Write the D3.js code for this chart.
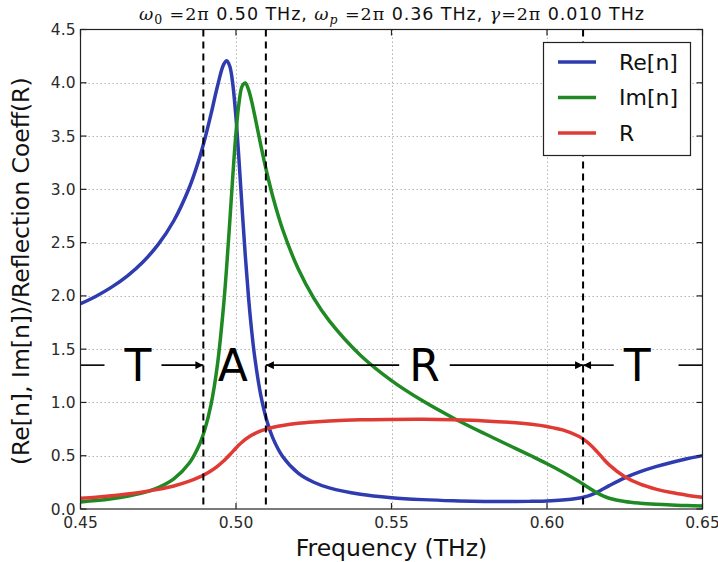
<!DOCTYPE html>
<html>
<head>
<meta charset="utf-8">
<script src="https://cdn.jsdelivr.net/npm/d3@7"></script>
<style>
  body { margin: 0; background: #fff; }
  svg { display: block; }
</style>
</head>
<body>
<div id="chart"></div>
<script>
// values
var freq = [0.45, 0.455, 0.46, 0.465, 0.47, 0.475, 0.48, 0.485, 0.488, 0.49, 0.492, 0.494, 0.496, 0.497,
  0.498, 0.499, 0.5, 0.501, 0.502, 0.503, 0.504, 0.505, 0.506, 0.508, 0.51, 0.512, 0.515, 0.52, 0.525,
  0.53, 0.54, 0.55, 0.56, 0.57, 0.58, 0.59, 0.595, 0.6, 0.605, 0.61, 0.612, 0.614, 0.616, 0.618, 0.62,
  0.625, 0.63, 0.635, 0.64, 0.645, 0.65];
var reN = [1.926, 1.997, 2.082, 2.186, 2.316, 2.483, 2.705, 3.017, 3.270, 3.475, 3.710, 3.963, 4.170, 4.207,
  4.155, 3.980, 3.670, 3.258, 2.805, 2.373, 1.996, 1.684, 1.430, 1.063, 0.821, 0.656, 0.493, 0.337, 0.251,
  0.198, 0.138, 0.106, 0.088, 0.077, 0.071, 0.070, 0.072, 0.075, 0.084, 0.101, 0.113, 0.131, 0.156, 0.187,
  0.219, 0.292, 0.350, 0.397, 0.437, 0.471, 0.501];
var imN = [0.066, 0.079, 0.096, 0.119, 0.151, 0.201, 0.282, 0.431, 0.588, 0.749, 0.985, 1.347, 1.905, 2.275,
  2.698, 3.137, 3.531, 3.819, 3.970, 3.998, 3.939, 3.830, 3.696, 3.411, 3.146, 2.914, 2.623, 2.254, 1.979,
  1.765, 1.443, 1.205, 1.015, 0.852, 0.706, 0.567, 0.497, 0.425, 0.348, 0.263, 0.226, 0.188, 0.152, 0.123,
  0.101, 0.070, 0.054, 0.044, 0.037, 0.032, 0.028];
var refl = [0.101, 0.111, 0.124, 0.140, 0.159, 0.184, 0.216, 0.261, 0.296, 0.325, 0.359, 0.401, 0.451, 0.479,
  0.509, 0.541, 0.572, 0.602, 0.629, 0.653, 0.674, 0.692, 0.708, 0.733, 0.752, 0.767, 0.784, 0.804, 0.817,
  0.826, 0.837, 0.841, 0.842, 0.837, 0.827, 0.809, 0.795, 0.774, 0.742, 0.685, 0.649, 0.601, 0.541, 0.475,
  0.414, 0.303, 0.233, 0.187, 0.154, 0.130, 0.111];

var seriesNames = ['Re[n]', 'Im[n]', 'R'];
var xTicks = [0.45, 0.50, 0.55, 0.60, 0.65];
var yTicks = [0, 0.5, 1.0, 1.5, 2.0, 2.5, 3.0, 3.5, 4.0, 4.5];

// region borders (dashed) and the T / A / R / T labels between them
var borders = [0.4895, 0.5096, 0.6116];
var regionLabels = ['T', 'A', 'R', 'T'];
var regionLabelF = [0.4685, 0.499, 0.5606, 0.629];
var regionY = 1.35;

var width = 718, height = 562;
var plot = {left: 80.5, right: 702.5, top: 29.5, bottom: 509};
var colors = ['#2f3cb0', '#1f8a24', '#e03a34'];
var sans = "'DejaVu Sans', sans-serif";
var serif = "'DejaVu Serif', serif";

var x = d3.scaleLinear().domain([0.45, 0.65]).range([plot.left, plot.right]);
var y = d3.scaleLinear().domain([0, 4.5]).range([plot.bottom, plot.top]);

var svg = d3.select('#chart').append('svg')
  .attr('width', width)
  .attr('height', height);

svg.append('defs').append('clipPath').attr('id', 'clip')
  .append('rect')
  .attr('x', plot.left).attr('y', plot.top)
  .attr('width', plot.right - plot.left).attr('height', plot.bottom - plot.top);

svg.append('defs').append('marker')
  .attr('id', 'head')
  .attr('viewBox', '0 0 10 10')
  .attr('refX', 10).attr('refY', 5)
  .attr('markerUnits', 'userSpaceOnUse')
  .attr('markerWidth', 11).attr('markerHeight', 8)
  .attr('orient', 'auto')
  .append('path').attr('d', 'M0,0 L10,5 L0,10 Z').attr('fill', '#000');

// dotted grid
var grid = svg.append('g').attr('stroke', '#b4b4b4').attr('stroke-width', 1).attr('stroke-dasharray', '1.5,2.5');
grid.selectAll('.gx')
  .data(xTicks.slice(1, -1))
  .enter().append('line')
  .attr('x1', d => Math.round(x(d)) + 0.5).attr('x2', d => Math.round(x(d)) + 0.5)
  .attr('y1', plot.top).attr('y2', plot.bottom);
grid.selectAll('.gy')
  .data(yTicks.slice(1, -1))
  .enter().append('line')
  .attr('x1', plot.left).attr('x2', plot.right)
  .attr('y1', d => Math.round(y(d)) + 0.5).attr('y2', d => Math.round(y(d)) + 0.5);

// curves
var series = [reN, imN, refl];
var line = d3.line()
  .x(d => x(d[0]))
  .y(d => y(d[1]))
  .curve(d3.curveCatmullRom.alpha(0.5));

svg.append('g').attr('clip-path', 'url(#clip)')
  .selectAll('path')
  .data(series)
  .enter().append('path')
  .attr('d', function(vals) {
    return line(freq.map((f, i) => [f, vals[i]]));
  })
  .attr('fill', 'none')
  .attr('stroke', (d, i) => colors[i])
  .attr('stroke-width', 3.5)
  .attr('stroke-linejoin', 'round');

// dashed region borders
svg.append('g')
  .selectAll('line')
  .data(borders)
  .enter().append('line')
  .attr('x1', d => x(d)).attr('x2', d => x(d))
  .attr('y1', plot.top).attr('y2', plot.bottom)
  .attr('stroke', '#000')
  .attr('stroke-width', 2)
  .attr('stroke-dasharray', '7,5');

// region labels with arrows
var ann = svg.append('g');
var ay = y(regionY);
regionLabels.forEach(function(lab, i) {
  var cx = x(regionLabelF[i]);
  var t = ann.append('text')
    .attr('x', cx)
    .attr('y', ay)
    .attr('text-anchor', 'middle')
    .attr('dy', '0.36em')
    .style('font-family', sans)
    .style('font-size', '44px')
    .attr('fill', '#000')
    .text(lab);
  var gap = t.node().getComputedTextLength() / 2 + 10;

  // left side
  if (i === 0) {
    ann.append('line').attr('x1', plot.left).attr('x2', plot.left + 24)
      .attr('y1', ay).attr('y2', ay).attr('stroke', '#000').attr('stroke-width', 1.6);
  } else if (cx - gap - x(borders[i - 1]) > 10) {
    ann.append('line').attr('x1', cx - gap).attr('x2', x(borders[i - 1]))
      .attr('y1', ay).attr('y2', ay).attr('stroke', '#000').attr('stroke-width', 1.6)
      .attr('marker-end', 'url(#head)');
  }
  // right side
  if (i === regionLabels.length - 1) {
    ann.append('line').attr('x1', plot.right - 24).attr('x2', plot.right)
      .attr('y1', ay).attr('y2', ay).attr('stroke', '#000').attr('stroke-width', 1.6);
  } else if (x(borders[i]) - (cx + gap) > 10) {
    ann.append('line').attr('x1', cx + gap).attr('x2', x(borders[i]))
      .attr('y1', ay).attr('y2', ay).attr('stroke', '#000').attr('stroke-width', 1.6)
      .attr('marker-end', 'url(#head)');
  }
});

// frame and inward ticks on all four sides
svg.append('rect')
  .attr('x', plot.left).attr('y', plot.top)
  .attr('width', plot.right - plot.left).attr('height', plot.bottom - plot.top)
  .attr('fill', 'none').attr('stroke', '#222').attr('stroke-width', 1.2);

var ticks = svg.append('g').attr('stroke', '#222').attr('stroke-width', 1.2);
xTicks.forEach(function(t) {
  ticks.append('line').attr('x1', x(t)).attr('x2', x(t)).attr('y1', plot.bottom).attr('y2', plot.bottom - 6);
  ticks.append('line').attr('x1', x(t)).attr('x2', x(t)).attr('y1', plot.top).attr('y2', plot.top + 6);
});
yTicks.forEach(function(t) {
  ticks.append('line').attr('x1', plot.left).attr('x2', plot.left + 6).attr('y1', y(t)).attr('y2', y(t));
  ticks.append('line').attr('x1', plot.right).attr('x2', plot.right - 6).attr('y1', y(t)).attr('y2', y(t));
});

// tick labels
svg.append('g')
  .selectAll('text')
  .data(xTicks)
  .enter().append('text')
  .attr('x', d => x(d))
  .attr('y', 528)
  .attr('text-anchor', 'middle')
  .style('font-family', sans)
  .style('font-size', '15.5px')
  .attr('fill', '#2a2a2a')
  .text(d3.format('.2f'));

svg.append('g')
  .selectAll('text')
  .data(yTicks)
  .enter().append('text')
  .attr('x', plot.left - 5)
  .attr('y', d => y(d))
  .attr('dy', '0.36em')
  .attr('text-anchor', 'end')
  .style('font-family', sans)
  .style('font-size', '15.5px')
  .attr('fill', '#2a2a2a')
  .text(d3.format('.1f'));

// axis titles
svg.append('text')
  .attr('x', (plot.left + plot.right) / 2)
  .attr('y', 556)
  .attr('text-anchor', 'middle')
  .style('font-family', sans)
  .style('font-size', '23.5px')
  .attr('fill', '#111')
  .text('Frequency (THz)');

svg.append('text')
  .attr('transform', 'translate(21,' + ((plot.top + plot.bottom) / 2 + 2) + ') rotate(-90)')
  .attr('text-anchor', 'middle')
  .attr('dy', '0.36em')
  .style('font-family', sans)
  .style('font-size', '23.5px')
  .attr('fill', '#111')
  .text('(Re[n], Im[n])/Reflection Coeff(R)');

// title with math symbols
var titleParts = [
  {t: 'ω', f: serif, it: true}, {t: '0', f: serif, sub: true}, {t: ' =2π', f: serif},
  {t: ' 0.50 THz, ', f: sans},
  {t: 'ω', f: serif, it: true}, {t: 'p', f: serif, it: true, sub: true}, {t: ' =2π', f: serif},
  {t: ' 0.36 THz, ', f: sans},
  {t: 'γ', f: serif, it: true}, {t: '=2π', f: serif},
  {t: ' 0.010 THz', f: sans}
];
var title = svg.append('text')
  .attr('x', (plot.left + plot.right) / 2)
  .attr('y', 20)
  .attr('text-anchor', 'middle')
  .style('font-size', '17.5px')
  .attr('fill', '#111')
  .attr('xml:space', 'preserve')
  .style('white-space', 'pre');
var shifted = false;
titleParts.forEach(function(p) {
  var dy = 0;
  if (p.sub && !shifted) { dy = 4; shifted = true; }
  else if (!p.sub && shifted) { dy = -4; shifted = false; }
  title.append('tspan')
    .attr('dy', dy)
    .style('font-family', p.f)
    .style('font-style', p.it ? 'italic' : 'normal')
    .style('font-size', p.sub ? '12.5px' : '17.5px')
    .text(p.t);
});
// the reference title is spread wider than the font alone gives
title.attr('textLength', 505).attr('lengthAdjust', 'spacing');

// legend
var legend = svg.append('g');
legend.append('rect')
  .attr('x', 543.5).attr('y', 42.5)
  .attr('width', 147).attr('height', 113)
  .attr('fill', '#fff').attr('stroke', '#222').attr('stroke-width', 1.2);

var item = legend.selectAll('.item')
  .data(seriesNames)
  .enter().append('g')
  .attr('transform', (d, i) => `translate(0, ${62 + i * 35.5})`);
item.append('line')
  .attr('x1', 558).attr('x2', 596)
  .attr('stroke', (d, i) => colors[i])
  .attr('stroke-width', 3.5);
item.append('text')
  .attr('x', 619)
  .attr('dy', '0.36em')
  .style('font-family', sans)
  .style('font-size', '22px')
  .attr('fill', '#111')
  .text(d => d);
</script>
</body>
</html>
